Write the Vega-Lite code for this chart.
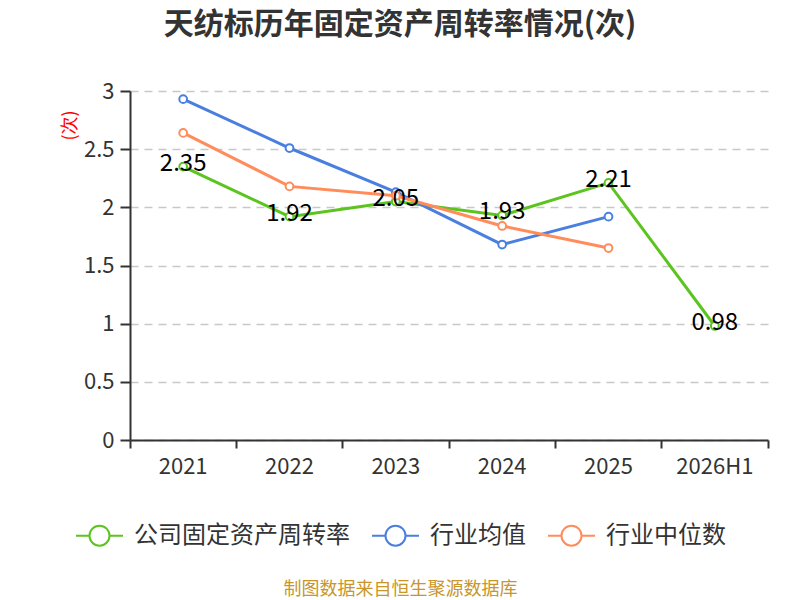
{
  "$schema": "https://vega.github.io/schema/vega-lite/v6.json",
  "width": 638,
  "height": 349,
  "autosize": {"type": "none"},
  "padding": {"left": 130, "top": 91, "right": 32, "bottom": 160},
  "background": "white",
  "config": {
    "font": "Noto Sans CJK SC",
    "view": {"stroke": null}
  },
  "title": {
    "text": "天纺标历年固定资产周转率情况(次)",
    "fontSize": 30,
    "fontWeight": "bold",
    "color": "#333333",
    "anchor": "middle",
    "dx": -49,
    "offset": 40
  },
  "data": {
    "values": [
      {"year": "2021", "series": "公司固定资产周转率", "value": 2.35},
      {"year": "2022", "series": "公司固定资产周转率", "value": 1.92},
      {"year": "2023", "series": "公司固定资产周转率", "value": 2.05},
      {"year": "2024", "series": "公司固定资产周转率", "value": 1.93},
      {"year": "2025", "series": "公司固定资产周转率", "value": 2.21},
      {"year": "2026H1", "series": "公司固定资产周转率", "value": 0.98},
      {"year": "2021", "series": "行业均值", "value": 2.93},
      {"year": "2022", "series": "行业均值", "value": 2.51},
      {"year": "2023", "series": "行业均值", "value": 2.13},
      {"year": "2024", "series": "行业均值", "value": 1.68},
      {"year": "2025", "series": "行业均值", "value": 1.92},
      {"year": "2021", "series": "行业中位数", "value": 2.64},
      {"year": "2022", "series": "行业中位数", "value": 2.18},
      {"year": "2023", "series": "行业中位数", "value": 2.1},
      {"year": "2024", "series": "行业中位数", "value": 1.84},
      {"year": "2025", "series": "行业中位数", "value": 1.65}
    ]
  },
  "encoding": {
    "x": {
      "field": "year",
      "type": "ordinal",
      "scale": {"type": "band", "paddingInner": 0, "paddingOuter": 0,
        "domain": ["2021", "2022", "2023", "2024", "2025", "2026H1"]},
      "axis": {
        "title": "制图数据来自恒生聚源数据库",
        "titleColor": "#c8962a",
        "titleFontSize": 18,
        "titleFontWeight": "normal",
        "titleX": 270,
        "titleY": 149,
        "titleBaseline": "middle",
        "titleAlign": "center",
        "labelAngle": 0,
        "labelFontSize": 22,
        "labelColor": "#333333",
        "labelPadding": 8,
        "bandPosition": 1,
        "tickExtra": true,
        "tickSize": 8,
        "tickColor": "#333333",
        "tickWidth": 2,
        "domainColor": "#333333",
        "domainWidth": 2,
        "grid": false
      }
    },
    "y": {
      "field": "value",
      "type": "quantitative",
      "scale": {"domain": [0, 3]},
      "axis": {
        "title": "(次)",
        "titleColor": "#ff0000",
        "titleFontSize": 18,
        "titleFontWeight": "normal",
        "titleX": -60,
        "titleY": 34,
        "titleAlign": "center",
        "titleBaseline": "middle",
        "values": [0, 0.5, 1, 1.5, 2, 2.5, 3],
        "format": "~g",
        "labelFontSize": 22,
        "labelColor": "#333333",
        "labelPadding": 6,
        "tickSize": 10,
        "tickColor": "#333333",
        "tickWidth": 2,
        "domainColor": "#333333",
        "domainWidth": 2,
        "grid": true,
        "gridColor": "#c8c8c8",
        "gridDash": [8, 6],
        "gridWidth": 1.5
      }
    },
    "color": {
      "field": "series",
      "type": "nominal",
      "scale": {
        "domain": ["公司固定资产周转率", "行业均值", "行业中位数"],
        "range": ["#5bc41f", "#4a7fe0", "#ff8c5a"]
      },
      "legend": {
        "title": null,
        "orient": "none",
        "direction": "horizontal",
        "legendX": -55,
        "legendY": 420,
        "padding": 0,
        "labelFontSize": 24,
        "labelColor": "#333333",
        "labelOffset": 10,
        "labelLimit": 400,
        "columnPadding": 18,
        "symbolType": "M-1,0L-0.426,0M0.426,0L1,0M0.426,0A0.426,0.426,0,1,1,-0.426,0A0.426,0.426,0,1,1,0.426,0Z",
        "symbolSize": 2209,
        "symbolStrokeWidth": 2,
        "symbolFillColor": "white",
        "encode": {"symbols": {"update": {"fill": {"value": "white"}}}}
      }
    }
  },
  "layer": [
    {
      "mark": {"type": "line", "strokeWidth": 3}
    },
    {
      "mark": {"type": "point", "shape": "circle", "filled": false, "fill": "white", "fillOpacity": 1, "opacity": 1, "size": 60, "strokeWidth": 2}
    },
    {
      "transform": [{"filter": "datum.series == '公司固定资产周转率'"}],
      "mark": {"type": "text", "fontSize": 24, "color": "#000000", "dy": -3, "align": "center", "baseline": "middle"},
      "encoding": {
        "text": {"field": "value", "type": "quantitative", "format": ".2f"},
        "color": {"value": "#000000"}
      }
    }
  ]
}
